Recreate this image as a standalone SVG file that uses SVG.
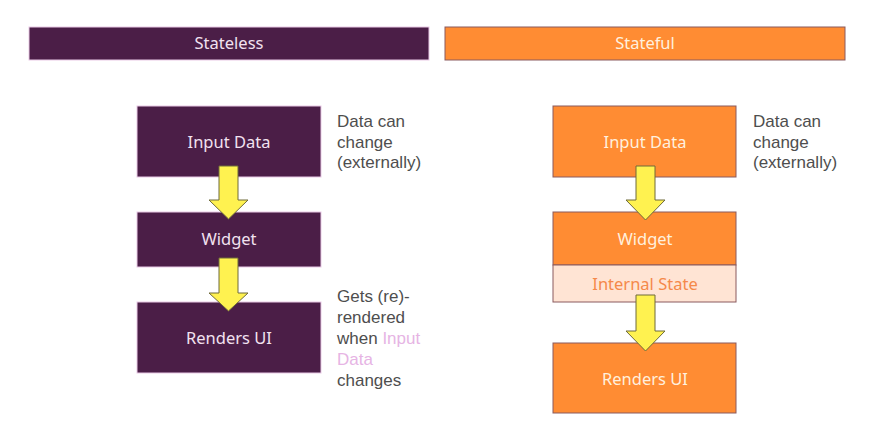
<svg xmlns="http://www.w3.org/2000/svg" width="873" height="441" viewBox="0 0 873 441">
<style>
text{font-family:"Noto Sans","Liberation Sans",sans-serif;font-size:16.5px}
.c{text-anchor:middle}
.purple{fill:#4B1E47;stroke:#E9C9E6;stroke-width:1}
.orange{fill:#FF8C33;stroke:#8A5A5E;stroke-width:1}
.peach{fill:#FFE4D4;stroke:#8A5A5E;stroke-width:1}
.tp{fill:#F2E2F0}
.to{fill:#FFF0DE}
.tpe{fill:#F5894A}
.note text{font-family:"Liberation Sans",Arial,sans-serif;font-size:17px}
.body{fill:#4E4E4E}
.pink{fill:#E6B4E4}
.arrow{fill:#FFF250;stroke:#6E6A3A;stroke-width:1}
</style>
<rect width="873" height="441" fill="#FFFFFF"/>
<g id="header-stateless">
<rect class="purple" x="29" y="27" width="400" height="33"/>
<text class="c tp" x="229" y="49">Stateless</text>
</g>
<g id="header-stateful">
<rect class="orange" x="445" y="27" width="400" height="33"/>
<text class="c to" x="645" y="49">Stateful</text>
</g>
<g id="sl-input">
<rect class="purple" x="137" y="106" width="184" height="71"/>
<text class="c tp" x="229" y="148">Input Data</text>
</g>
<g id="sl-widget">
<rect class="purple" x="137" y="212" width="184" height="55"/>
<text class="c tp" x="229" y="245">Widget</text>
</g>
<g id="sl-render">
<rect class="purple" x="137" y="302" width="184" height="71"/>
<text class="c tp" x="229" y="344">Renders UI</text>
</g>
<g id="sf-input">
<rect class="orange" x="553" y="106" width="183" height="71"/>
<text class="c to" x="645" y="148">Input Data</text>
</g>
<g id="sf-widget">
<rect class="orange" x="553" y="212" width="183" height="53"/>
<text class="c to" x="645" y="245">Widget</text>
</g>
<g id="sf-state">
<rect class="peach" x="553" y="265" width="183" height="37"/>
<text class="c tpe" x="645" y="290">Internal State</text>
</g>
<g id="sf-render">
<rect class="orange" x="553" y="343" width="183" height="70"/>
<text class="c to" x="645" y="385">Renders UI</text>
</g>
<g id="connectors">
<polygon class="arrow" points="219,166 238,166 238,200 248,200 228.5,219 209,200 219,200"/>
<polygon class="arrow" points="219,258 238,258 238,293 248,293 228.5,311 209,293 219,293"/>
<polygon class="arrow" points="636,166 655,166 655,200 665,200 645.5,220 626,200 636,200"/>
<polygon class="arrow" points="636,295 655,295 655,331 665,331 645.5,351 626,331 636,331"/>
</g>
<g id="note-sl-data" class="note">
<text class="body" x="337" y="127">Data can</text>
<text class="body" x="337" y="147.5">change</text>
<text class="body" x="337" y="168">(externally)</text>
</g>
<g id="note-sf-data" class="note">
<text class="body" x="753" y="127">Data can</text>
<text class="body" x="753" y="147.5">change</text>
<text class="body" x="753" y="168">(externally)</text>
</g>
<g id="note-rerender" class="note">
<text class="body" x="337" y="302">Gets (re)-</text>
<text class="body" x="337" y="323">rendered</text>
<text class="body" x="337" y="344">when <tspan class="pink">Input</tspan></text>
<text class="pink" x="337" y="365">Data</text>
<text class="body" x="337" y="386">changes</text>
</g>
</svg>
